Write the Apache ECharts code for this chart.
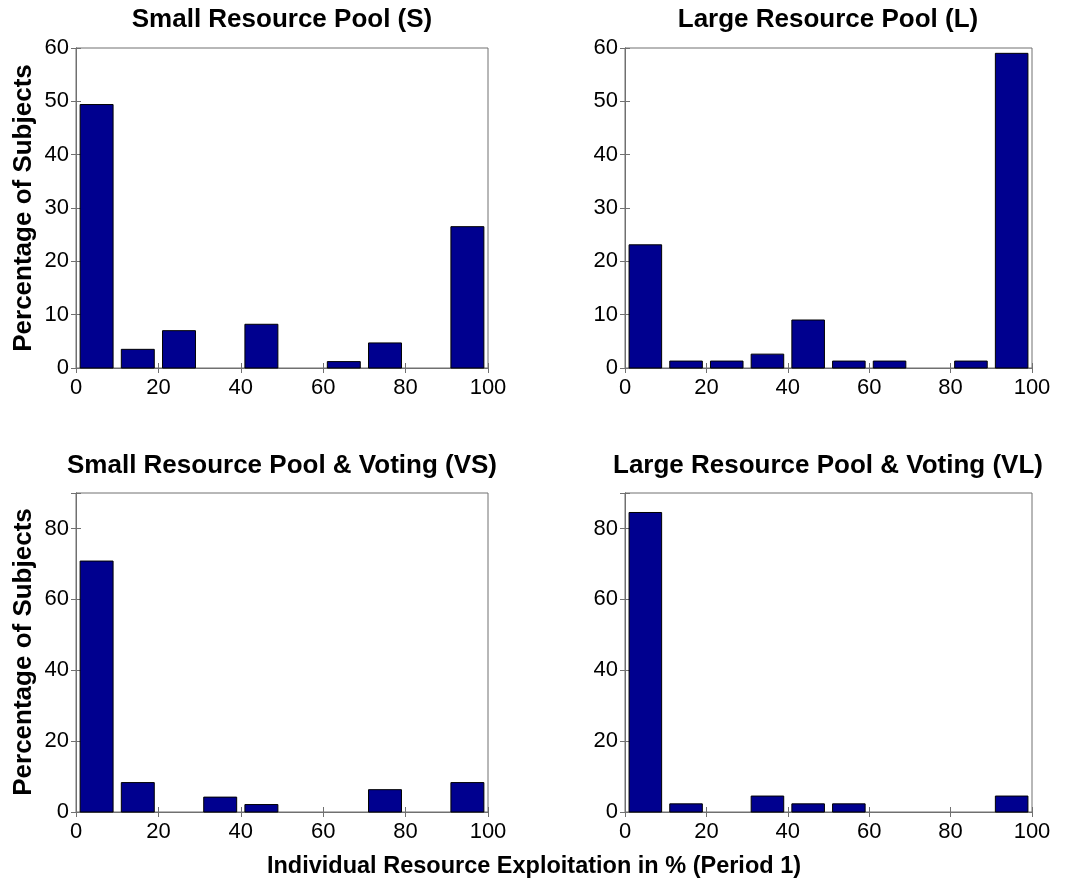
<!DOCTYPE html>
<html>
<head>
<meta charset="utf-8">
<script src="https://cdn.jsdelivr.net/npm/echarts@6/dist/echarts.min.js"></script>
<style>
  html, body { margin: 0; padding: 0; background: #fff; }
  #chart { width: 1066px; height: 884px; }
</style>
</head>
<body>
<div id="chart"></div>
<script>
// Histogram bins of individual resource exploitation (%), width 10
const binStarts = [0, 10, 20, 30, 40, 50, 60, 70, 80, 90];
const xTicks = [0, 20, 40, 60, 80, 100];

// Percentage of subjects per bin, one list per treatment
const smallPool       = [49.4, 3.5, 7.0, 0, 8.2, 0, 1.2, 4.7, 0, 26.5];
const largePool       = [23.1, 1.3, 1.3, 2.6, 9.0, 1.3, 1.3, 0, 1.3, 59.0];
const smallPoolVoting = [70.8, 8.3, 0, 4.2, 2.1, 0, 0, 6.3, 0, 8.3];
const largePoolVoting = [84.5, 2.3, 0, 4.5, 2.3, 2.3, 0, 0, 0, 4.5];

const panelTitles = [
  'Small Resource Pool (S)',
  'Large Resource Pool (L)',
  'Small Resource Pool & Voting (VS)',
  'Large Resource Pool & Voting (VL)'
];
const yLabel = 'Percentage of Subjects';
const xLabel = 'Individual Resource Exploitation in % (Period 1)';

const FONT = '"Liberation Sans", Arial, Helvetica, sans-serif';
const FRAME = '#707070';
const BAR = '#00008f';

const panels = [
  { values: smallPool,       grid: { left: 76,  top: 48,  width: 412, height: 320 }, yMax: 60, yStep: 10 },
  { values: largePool,       grid: { left: 625, top: 48,  width: 407, height: 320 }, yMax: 60, yStep: 10 },
  { values: smallPoolVoting, grid: { left: 76,  top: 493, width: 412, height: 319 }, yMax: 90, yStep: 20 },
  { values: largePoolVoting, grid: { left: 625, top: 493, width: 407, height: 319 }, yMax: 90, yStep: 20 }
];

const grids = [], xAxes = [], yAxes = [], series = [];

panels.forEach((p, i) => {
  grids.push(Object.assign({ show: true, borderColor: FRAME, borderWidth: 1, backgroundColor: '#fff' }, p.grid));
  const tick = { show: true, inside: true, length: 5, lineStyle: { color: FRAME, width: 1 } };
  const line = { show: true, lineStyle: { color: FRAME, width: 1 } };
  // bottom and top x axes
  xAxes.push({
    type: 'value', gridIndex: i, min: 0, max: 100, interval: 20, position: 'bottom',
    axisLine: line, axisTick: tick, splitLine: { show: false },
    axisLabel: {
      color: '#000', fontFamily: FONT, fontSize: 22, margin: 9,
      formatter: v => (xTicks.indexOf(v) >= 0 ? String(v) : '')
    }
  });
  xAxes.push({
    type: 'value', gridIndex: i, min: 0, max: 100, interval: 20, position: 'top',
    axisLine: line, axisTick: tick, splitLine: { show: false }, axisLabel: { show: false }
  });
  // left and right y axes
  yAxes.push({
    type: 'value', gridIndex: i, min: 0, max: p.yMax, interval: p.yStep, position: 'left',
    axisLine: line, axisTick: tick, splitLine: { show: false },
    axisLabel: {
      color: '#000', fontFamily: FONT, fontSize: 22, margin: 7,
      formatter: v => (v % p.yStep === 0 ? String(v) : '')
    }
  });
  yAxes.push({
    type: 'value', gridIndex: i, min: 0, max: p.yMax, interval: p.yStep, position: 'right',
    axisLine: line, axisTick: tick, splitLine: { show: false }, axisLabel: { show: false }
  });

  // bars occupy 80% of each bin, centred in it
  const data = binStarts.map((b, k) => [b + 1, b + 9, p.values[k]]);
  series.push({
    type: 'custom',
    xAxisIndex: 2 * i,
    yAxisIndex: 2 * i,
    data: data,
    encode: { x: [0, 1], y: 2 },
    renderItem: function (params, api) {
      const val = api.value(2);
      if (!val) return null;
      const p0 = api.coord([api.value(0), 0]);
      const p1 = api.coord([api.value(1), val]);
      return {
        type: 'rect',
        shape: { x: p0[0], y: p1[1], width: p1[0] - p0[0], height: p0[1] - p1[1] },
        style: { fill: BAR, stroke: '#000', lineWidth: 1 }
      };
    }
  });
});

const titleStyle = { fontFamily: FONT, fontSize: 26, fontWeight: 'bold', fill: '#000' };
const titlePos = [[282, 20], [828, 20], [282, 466], [828, 466]];

const graphics = panelTitles.map((t, i) => ({
  type: 'text', x: titlePos[i][0], y: titlePos[i][1],
  style: Object.assign({ text: t, textAlign: 'center', textVerticalAlign: 'middle' }, titleStyle)
}));
[208, 652].forEach(cy => {
  graphics.push({
    type: 'text', x: 24, y: cy, rotation: Math.PI / 2,
    style: Object.assign({ text: yLabel, textAlign: 'center', textVerticalAlign: 'middle' }, titleStyle)
  });
});
graphics.push({
  type: 'text', x: 534, y: 867,
  style: Object.assign({ text: xLabel, textAlign: 'center', textVerticalAlign: 'middle' },
    titleStyle, { fontSize: 23.5 })
});

const chart = echarts.init(document.getElementById('chart'), null, { renderer: 'canvas' });
chart.setOption({
  animation: false,
  backgroundColor: '#fff',
  grid: grids,
  xAxis: xAxes,
  yAxis: yAxes,
  series: series,
  graphic: graphics
});
</script>
</body>
</html>
